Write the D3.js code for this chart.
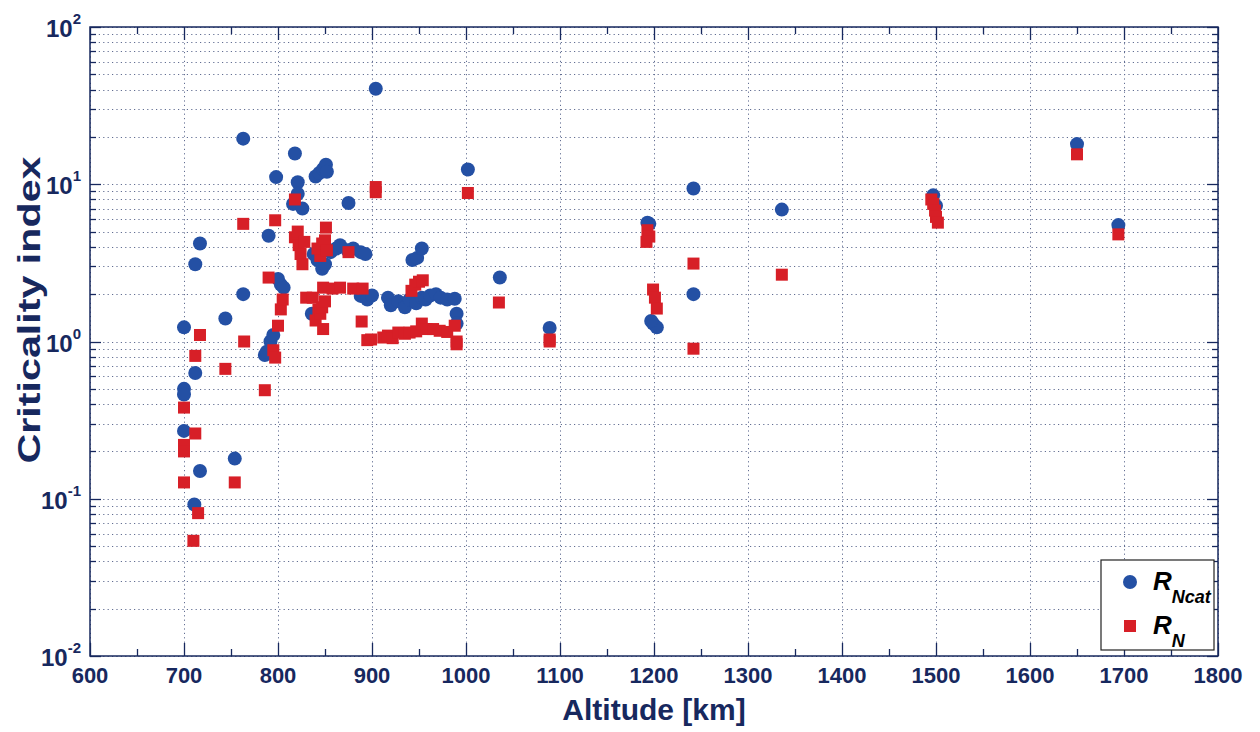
<html>
<head>
<meta charset="utf-8">
<title>Criticality index vs altitude</title>
<script src="https://cdnjs.cloudflare.com/ajax/libs/d3/7.8.5/d3.min.js"></script>
<style>
  body { margin: 0; background: #fff; }
  text { font-family: "Liberation Sans", Arial, sans-serif; font-weight: bold; fill: #17285e; }
</style>
</head>
<body>
<div id="chart"></div>
<script>
// R_Ncat values (blue circles): [altitude km, index]
var rNcat = [
  [700, 1.23], [700, 0.50], [700, 0.46], [700, 0.27], [712, 0.63], [712, 3.1],
  [717, 4.2], [717, 0.15], [711, 0.092], [744, 1.4], [754, 0.18], [763, 19.5],
  [763, 2.0], [786, 0.82], [788, 0.86], [792, 1.0], [795, 1.1], [790, 4.7],
  [798, 11.1], [800, 2.5], [803, 2.3], [806, 2.2], [818, 15.7], [816, 7.5],
  [821, 10.3], [821, 8.7], [826, 7.0], [840, 11.2], [844, 11.8], [848, 12.5],
  [851, 13.3], [852, 12.0], [875, 7.6], [836, 1.5], [838, 3.6], [842, 3.3],
  [847, 2.9], [850, 3.1], [856, 3.7], [862, 3.9], [866, 4.1], [874, 3.8],
  [880, 3.9], [888, 3.7], [893, 3.6], [888, 1.95], [895, 1.85], [900, 1.96],
  [904, 40.5], [917, 1.9], [920, 1.7], [928, 1.8], [935, 1.65], [940, 1.85],
  [947, 1.75], [953, 1.9], [957, 1.85], [962, 1.96], [968, 2.0], [973, 1.9],
  [980, 1.85], [988, 1.87], [990, 1.5], [990, 1.3], [943, 3.3], [948, 3.4],
  [953, 3.9], [1002, 12.4], [1036, 2.55], [1089, 1.22], [1195, 5.6], [1193, 5.7],
  [1199, 1.3], [1203, 1.23], [1197, 1.35], [1242, 9.4], [1242, 2.0], [1336, 6.9],
  [1497, 8.5], [1500, 7.3], [1650, 18.0], [1694, 5.5]
];

// R_N values (red squares)
var rN = [
  [700, 0.38], [700, 0.22], [700, 0.20], [700, 0.127], [710, 0.054], [712, 0.81],
  [712, 0.26], [715, 0.081], [717, 1.1], [744, 0.67], [754, 0.127], [764, 1.0],
  [763, 5.6], [786, 0.49], [790, 2.55], [795, 0.88], [797, 0.79], [797, 5.9],
  [800, 1.26], [803, 1.6], [805, 1.85], [818, 8.0], [818, 4.6], [821, 5.0],
  [822, 4.1], [824, 3.6], [826, 3.1], [828, 4.3], [830, 1.9], [837, 1.9],
  [840, 1.36], [843, 1.6], [845, 1.5], [847, 1.65], [848, 2.2], [848, 1.2],
  [850, 1.8], [845, 3.5], [842, 3.9], [847, 4.2], [850, 4.4], [852, 3.8],
  [851, 5.3], [858, 2.17], [866, 2.2], [875, 3.7], [880, 2.17], [890, 2.17],
  [889, 1.34], [899, 1.03], [895, 1.02], [904, 9.6], [904, 8.9], [912, 1.06],
  [917, 1.09], [922, 1.05], [928, 1.14], [935, 1.12], [940, 1.14], [947, 1.16],
  [953, 1.3], [958, 1.2], [965, 1.2], [972, 1.17], [980, 1.15], [988, 1.26],
  [990, 1.0], [990, 0.96], [942, 2.1], [946, 2.3], [950, 2.4], [954, 2.45],
  [1002, 8.8], [1035, 1.77], [1089, 1.03], [1089, 1.0], [1193, 5.1], [1195, 4.65],
  [1192, 4.3], [1199, 2.14], [1201, 1.9], [1203, 1.62], [1242, 3.13], [1242, 0.9],
  [1336, 2.66], [1495, 8.0], [1497, 7.5], [1499, 6.8], [1500, 6.2], [1502, 5.7],
  [1650, 15.5], [1694, 4.8]
];

var xTicks = [600, 700, 800, 900, 1000, 1100, 1200, 1300, 1400, 1500, 1600, 1700, 1800];
var xMinorTicks = [650, 750, 850, 950, 1050, 1150, 1250, 1350, 1450, 1550, 1650, 1750];
var yDecades = [-2, -1, 0, 1, 2];

var W = 1260, H = 732;
var margin = {left: 90, right: 42, top: 27, bottom: 76};
var navy = "#17285e";
var blue = "#2450a4";
var red = "#d71f27";

var svg = d3.select("#chart").append("svg")
  .attr("width", W).attr("height", H);

var x = d3.scaleLinear().domain([600, 1800]).range([margin.left, W - margin.right]);
var y = d3.scaleLog().domain([0.01, 100]).range([H - margin.bottom, margin.top]);

var x0 = x.range()[0], x1 = x.range()[1], y0 = y.range()[0], y1 = y.range()[1];

// log minor values 2..9 x 10^k
var yMinor = [];
yDecades.slice(0, -1).forEach(function(k) {
  for (var m = 2; m <= 9; m++) yMinor.push(m * Math.pow(10, k));
});
var yMajor = yDecades.map(function(k) { return Math.pow(10, k); });

// grid
var grid = svg.append("g").attr("stroke", "#3b4a78").attr("stroke-width", 1)
  .attr("stroke-dasharray", "1.2,3.2").attr("opacity", 0.8);
grid.selectAll("line.gy").data(yMajor.concat(yMinor)).enter().append("line")
  .attr("x1", x0).attr("x2", x1)
  .attr("y1", function(d) { return Math.round(y(d)) + 0.5; })
  .attr("y2", function(d) { return Math.round(y(d)) + 0.5; });
grid.selectAll("line.gx").data(xTicks).enter().append("line")
  .attr("y1", y0).attr("y2", y1)
  .attr("x1", function(d) { return Math.round(x(d)) + 0.5; })
  .attr("x2", function(d) { return Math.round(x(d)) + 0.5; });

// points
var pts = svg.append("g");
pts.selectAll("circle").data(rNcat).enter().append("circle")
  .attr("cx", function(d) { return x(d[0]); })
  .attr("cy", function(d) { return y(d[1]); })
  .attr("r", 7)
  .attr("fill", blue);
pts.selectAll("rect").data(rN).enter().append("rect")
  .attr("x", function(d) { return x(d[0]) - 6; })
  .attr("y", function(d) { return y(d[1]) - 6; })
  .attr("width", 12).attr("height", 12)
  .attr("fill", red);

// ticks (inward, on all sides)
var ticks = svg.append("g").attr("stroke", navy).attr("stroke-width", 1.3);
function vt(vals, len) {
  vals.forEach(function(v) {
    var px = Math.round(x(v)) + 0.5;
    ticks.append("line").attr("x1", px).attr("x2", px).attr("y1", y0).attr("y2", y0 - len);
    ticks.append("line").attr("x1", px).attr("x2", px).attr("y1", y1).attr("y2", y1 + len);
  });
}
function ht(vals, len) {
  vals.forEach(function(v) {
    var py = Math.round(y(v)) + 0.5;
    ticks.append("line").attr("y1", py).attr("y2", py).attr("x1", x0).attr("x2", x0 + len);
    ticks.append("line").attr("y1", py).attr("y2", py).attr("x1", x1).attr("x2", x1 - len);
  });
}
vt(xTicks, 13);
vt(xMinorTicks, 7);
ht(yMajor, 11);
ht(yMinor, 6);

// frame
svg.append("rect")
  .attr("x", x0).attr("y", y1).attr("width", x1 - x0).attr("height", y0 - y1)
  .attr("fill", "none").attr("stroke", navy).attr("stroke-width", 1.5);

// x tick labels
svg.append("g").selectAll("text").data(xTicks).enter().append("text")
  .attr("x", function(d) { return x(d); })
  .attr("y", y0 + 27)
  .attr("text-anchor", "middle")
  .attr("font-size", 22)
  .text(function(d) { return d; });

// y tick labels 10^k
var yl = svg.append("g").selectAll("text").data(yDecades).enter().append("text")
  .attr("x", x0 - 9)
  .attr("y", function(d) { return y(Math.pow(10, d)) + 10; })
  .attr("text-anchor", "end")
  .attr("font-size", 24);
yl.append("tspan").text("10");
yl.append("tspan").attr("dy", -13).attr("font-size", 15).text(function(d) { return d; });

// axis titles
svg.append("text")
  .attr("x", (x0 + x1) / 2).attr("y", H - 12)
  .attr("text-anchor", "middle").attr("font-size", 30)
  .text("Altitude [km]");
svg.append("text")
  .attr("transform", "translate(40,310) rotate(-90) scale(1.33,1)")
  .attr("text-anchor", "middle").attr("font-size", 31)
  .text("Criticality index");

// legend
var lg = svg.append("g").attr("transform", "translate(1101,560)");
lg.append("rect").attr("width", 113).attr("height", 90)
  .attr("fill", "#fff").attr("stroke", "#222").attr("stroke-width", 1.2);
lg.append("circle").attr("cx", 29).attr("cy", 22).attr("r", 7).attr("fill", blue);
lg.append("rect").attr("x", 23).attr("y", 60).attr("width", 12).attr("height", 12).attr("fill", red);
var t1 = lg.append("text").attr("x", 52).attr("y", 30).attr("font-size", 26)
  .attr("font-style", "italic").style("fill", "#000");
t1.append("tspan").text("R");
t1.append("tspan").attr("dy", 13).attr("font-size", 18).text("Ncat");
var t2 = lg.append("text").attr("x", 52).attr("y", 74).attr("font-size", 26)
  .attr("font-style", "italic").style("fill", "#000");
t2.append("tspan").text("R");
t2.append("tspan").attr("dy", 13).attr("font-size", 18).text("N");
</script>
</body>
</html>
